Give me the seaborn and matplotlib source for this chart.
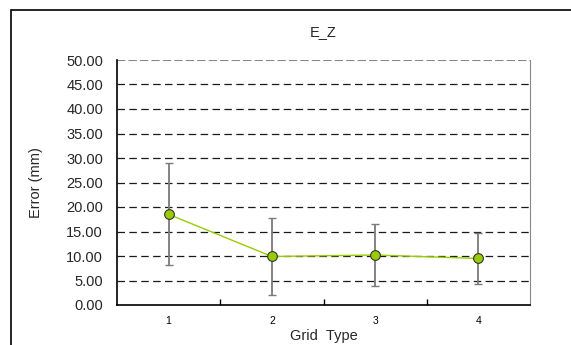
import matplotlib
matplotlib.use("Agg")
import matplotlib.pyplot as plt
import seaborn as sns
import pandas as pd
from matplotlib.patches import Rectangle

# Mean error per grid type with its spread
grid_types = [1, 2, 3, 4]
mean_error = [18.5, 9.9, 10.2, 9.5]
error_spread = [10.4, 7.8, 6.3, 5.2]
y_ticks = [0, 5, 10, 15, 20, 25, 30, 35, 40, 45, 50]

sns.set_theme(style="white")
plt.rcParams["font.family"] = ["Liberation Sans", "DejaVu Sans"]

fig = plt.figure(figsize=(5.71, 3.45), dpi=100)
ax = fig.add_axes([117 / 571, 1 - 305 / 345, 413 / 571, 245 / 345])

# Outer chart-area frame (extends past the bottom/right edges)
fig.patches.append(Rectangle((11 / 571, -0.1), 1.2, 1 - 10 / 345 + 0.1,
                             transform=fig.transFigure, fill=False,
                             edgecolor="black", linewidth=1.2, zorder=0))

df = pd.DataFrame({"grid": grid_types, "err": mean_error})

ax.errorbar(grid_types, mean_error, yerr=error_spread, fmt="none",
            ecolor="#7a7a7a", elinewidth=1.3, capsize=2.7, capthick=1.0,
            zorder=3)
sns.lineplot(data=df, x="grid", y="err", ax=ax, color="#99cc00",
             linewidth=1.0, marker="o", markersize=7,
             markerfacecolor="#99cc00", markeredgecolor="#333333",
             markeredgewidth=0.8, zorder=4)

ax.set_xlim(0.5, 4.5)
ax.set_ylim(0, 50)
ax.set_yticks(y_ticks)
ax.set_yticklabels([f"{v:.2f}" for v in y_ticks], fontsize=10.5)
ax.set_xticks(grid_types)
ax.set_xticklabels([str(g) for g in grid_types], fontsize=7.5)
ax.set_xticks([1.5, 2.5, 3.5], minor=True)
ax.tick_params(axis="x", which="major", length=0, pad=8, colors="black")
ax.tick_params(axis="x", which="minor", direction="in", length=4,
               width=1, bottom=True, color="black")
ax.tick_params(axis="y", which="major", length=0, pad=10)

for v in y_ticks[1:-1]:
    ax.axhline(v, color="#1a1a1a", linestyle=(0, (6, 3.5)), linewidth=0.9,
               zorder=1)
ax.axhline(50, color="#888888", linestyle=(0, (4, 1.5)), linewidth=1.5,
           zorder=1)

for side in ["left", "bottom"]:
    ax.spines[side].set_color("black")
    ax.spines[side].set_linewidth(1.2)
ax.spines["right"].set_color("#888888")
ax.spines["right"].set_linewidth(0.8)
ax.spines["top"].set_visible(False)

ax.set_xlabel("Grid  Type", fontsize=10.5, labelpad=2)
ax.set_ylabel("Error (mm)", fontsize=10.5, labelpad=17)
fig.text(323 / 571, 1 - 32 / 345, "E_Z", ha="center", va="center",
         fontsize=10.5)

fig.savefig("out.png", dpi=100)
